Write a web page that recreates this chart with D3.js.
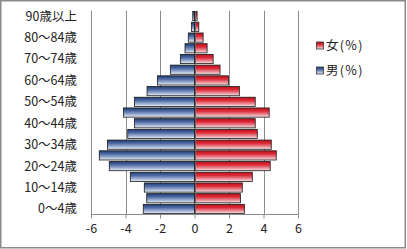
<!DOCTYPE html>
<html><head><meta charset="utf-8">
<script src="https://cdn.jsdelivr.net/npm/d3@7/dist/d3.min.js"></script>
<style>
html,body{margin:0;padding:0;background:#fff;}
svg{display:block;font-family:"Noto Sans CJK JP","Noto Sans",sans-serif;}
</style></head>
<body>
<svg id="c" width="407" height="249"></svg>
<script>
const ageGroups = ["0～4歳","5～9歳","10～14歳","15～19歳","20～24歳","25～29歳","30～34歳","35～39歳","40～44歳","45～49歳","50～54歳","55～59歳","60～64歳","65～69歳","70～74歳","75～79歳","80～84歳","85～89歳","90歳以上"];
const maleValues = [-2.97,-2.77,-2.91,-3.72,-4.94,-5.52,-5.05,-3.87,-3.48,-4.12,-3.48,-2.75,-2.15,-1.4,-0.82,-0.55,-0.36,-0.17,-0.1];
const femaleValues = [2.89,2.66,2.77,3.35,4.39,4.74,4.45,3.64,3.52,4.33,3.52,2.6,1.97,1.48,1.08,0.73,0.5,0.25,0.15];
const xTicks = [-6,-4,-2,0,2,4,6];
const seriesNames = ["女(%)","男(%)"];

const svg = d3.select("#c");
const defs = svg.append("defs");
function grad(id, stops){
  const g = defs.append("linearGradient").attr("id",id).attr("x1",0).attr("y1",0).attr("x2",0).attr("y2",1);
  stops.forEach(s=>g.append("stop").attr("offset",s[0]).attr("stop-color",s[1]));
}
grad("gBlue",[[0,"#1f3c73"],[0.35,"#4d6aa3"],[0.75,"#a9b9d8"],[1,"#eef1f8"]]);
grad("gRed",[[0,"#c0101c"],[0.35,"#dc2a38"],[0.75,"#eb9aa2"],[1,"#fbe8ea"]]);

// outer border
svg.append("rect").attr("x",0.75).attr("y",0.75).attr("width",404.5).attr("height",247)
  .attr("fill","#fff").attr("stroke","#8a8a8a").attr("stroke-width",1.5);

const x = d3.scaleLinear().domain([-6,6]).range([91,298]);
const y = d3.scaleBand().domain(ageGroups).range([214.3,10.8]).paddingInner(0.14).paddingOuter(0.07);

// gridlines
svg.append("g").selectAll("line").data(xTicks.filter(d=>d!==0)).join("line")
  .attr("x1",d=>Math.round(x(d))+0.5).attr("x2",d=>Math.round(x(d))+0.5)
  .attr("y1",10.8).attr("y2",214.3).attr("stroke","#8c8c8c").attr("stroke-width",1);

// bars
svg.append("g").selectAll("rect").data(ageGroups).join("rect")
  .attr("x",(d,i)=>x(maleValues[i])).attr("y",d=>y(d))
  .attr("width",(d,i)=>x(0)-x(maleValues[i])).attr("height",y.bandwidth())
  .attr("fill","url(#gBlue)").attr("stroke","#1a1a1a").attr("stroke-width",0.8);
svg.append("g").selectAll("rect").data(ageGroups).join("rect")
  .attr("x",x(0)).attr("y",d=>y(d))
  .attr("width",(d,i)=>x(femaleValues[i])-x(0)).attr("height",y.bandwidth())
  .attr("fill","url(#gRed)").attr("stroke","#1a1a1a").attr("stroke-width",0.8);

// bottom axis
const xAxis = d3.axisBottom(x).tickValues(xTicks).tickSize(4).tickPadding(6).tickFormat(d=>d);
const gx = svg.append("g").attr("transform","translate(0,214.5)").call(xAxis);
gx.select(".domain").attr("stroke","#8c8c8c").attr("d","M91,0H298");
gx.selectAll(".tick line").attr("stroke","#8c8c8c");
gx.selectAll(".tick text").attr("font-size",12.5).attr("fill","#222")
  .attr("font-family","'Noto Sans CJK JP',sans-serif");

// vertical category axis at 0
svg.append("line").attr("x1",Math.round(x(0))+0.5).attr("x2",Math.round(x(0))+0.5)
  .attr("y1",10.8).attr("y2",214.3).attr("stroke","#6a6a6a").attr("stroke-width",1);

// category labels (every other)
svg.append("g").selectAll("text").data(ageGroups.filter((d,i)=>i%2===0)).join("text")
  .attr("x",77).attr("y",d=>y(d)+y.bandwidth()/2).attr("dy","0.36em")
  .attr("text-anchor","end").attr("font-size",12.5).attr("fill","#222").text(d=>d);

// legend
const leg = svg.append("g");
const legItems = [{n:seriesNames[0],g:"url(#gRed)",yy:45.5},{n:seriesNames[1],g:"url(#gBlue)",yy:70.5}];
legItems.forEach(it=>{
  leg.append("rect").attr("x",316.5).attr("y",it.yy-3.5).attr("width",7).attr("height",7)
    .attr("fill",it.g).attr("stroke","#333").attr("stroke-width",0.8);
  leg.append("text").attr("x",326).attr("y",it.yy).attr("dy","0.36em")
    .attr("font-size",12.5).attr("letter-spacing",1.3).attr("fill","#222").text(it.n);
});
</script>
</body></html>
